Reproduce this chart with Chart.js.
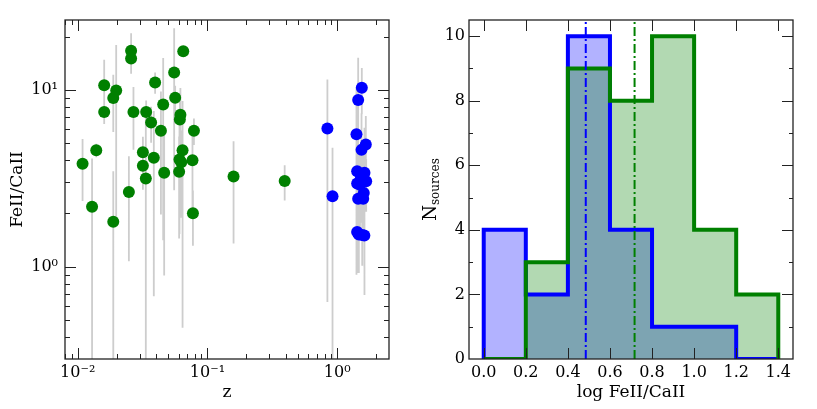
<!DOCTYPE html>
<html>
<head>
<meta charset="utf-8">
<script src="https://cdn.jsdelivr.net/npm/chart.js@4.4.1/dist/chart.umd.min.js"></script>
<style>
html, body { margin: 0; padding: 0; background: #fff; }
#left { position: absolute; left: 0; top: 0; width: 410px; height: 409px; }
#right { position: absolute; left: 410px; top: 0; width: 407px; height: 409px; }
</style>
</head>
<body>
<div id="left"><canvas id="scatter"></canvas></div>
<div id="right"><canvas id="hist"></canvas></div>
<script>
// left panel: FeII/CaII vs redshift
const greenZ = [0.0109, 0.0129, 0.0139, 0.0160, 0.0160, 0.0188, 0.0198, 0.0188, 0.0258, 0.0258, 0.0269, 0.0248,
    0.0318, 0.0318, 0.0335, 0.0337, 0.0368, 0.0395, 0.0386, 0.0438, 0.0456, 0.0464, 0.0554, 0.0564,
    0.0619, 0.0613, 0.0651, 0.0643, 0.0609, 0.0628, 0.0605, 0.0787, 0.0767, 0.0773, 0.159, 0.394];
const greenRatio = [3.81, 2.18, 4.55, 10.6, 7.48, 8.97, 9.91, 1.79, 16.6, 15.0, 7.48, 2.64,
    4.43, 3.72, 3.15, 7.48, 6.52, 11.0, 4.13, 5.87, 8.26, 3.39, 12.5, 9.02,
    7.23, 6.78, 16.5, 4.55, 4.03, 3.89, 3.44, 5.87, 3.99, 2.00, 3.23, 3.05];
const greenErr = [1.46, 1.9, 0.4, 4.2, 1.0, 3.2, 8.0, 1.67, 4.3, 2.0, 2.9, 1.57,
    1.0, 1.0, 4.2, 1.2, 1.5, 1.5, 3.45, 3.9, 6.85, 2.5, 9.8, 1.5,
    3.0, 2.0, 1.0, 4.1, 2.5, 2.0, 2.0, 1.0, 2.0, 0.69, 1.88, 0.69];

const blueZ = [0.841, 0.921, 1.549, 1.452, 1.409, 1.663, 1.541, 1.426, 1.624, 1.674, 1.426, 1.560,
    1.604, 1.452, 1.588, 1.426, 1.560, 1.47, 1.62, 1.53, 1.60, 1.50];
const blueRatio = [6.03, 2.50, 10.26, 8.75, 5.60, 4.90, 4.57, 3.46, 3.39, 3.04, 2.95, 3.10,
    2.61, 2.42, 2.42, 1.57, 1.51, 1.52, 1.50, 3.20, 3.35, 2.90];
const blueErr = [5.4, 2.2, 3.0, 6.4, 4.7, 2.2, 2.8, 2.2, 2.7, 1.0, 1.5, 1.2,
    1.0, 1.5, 1.0, 0.4, 0.5, 0.6, 0.5, 1.2, 1.0, 1.4];

const zTicks = [0.01, 0.1, 1];
const zTickLabels = ['10\u207B\u00B2', '10\u207B\u00B9', '10\u2070'];
const ratioTicks = [1, 10];
const ratioTickLabels = ['10\u2070', '10\u00B9'];

// right panel: histogram of log FeII/CaII
const binEdges = [0.0, 0.2, 0.4, 0.6, 0.8, 1.0, 1.2, 1.4];
const blueCounts = [4, 2, 10, 4, 1, 1, 0];
const greenCounts = [0, 3, 9, 8, 10, 4, 2];
const blueMean = 0.485;
const greenMean = 0.717;
const histXTicks = [0, 0.2, 0.4, 0.6, 0.8, 1.0, 1.2, 1.4];
const histYTicks = [0, 2, 4, 6, 8, 10];
const histYMinor = [1, 3, 5, 7, 9];

const FONT = 'DejaVu Serif';

function logMinors(lo, hi) {
    const out = [];
    for (let e = Math.floor(Math.log10(lo)); e <= Math.ceil(Math.log10(hi)); e++) {
        for (let m = 2; m <= 9; m++) {
            const v = m * Math.pow(10, e);
            if (v > lo && v < hi) out.push(v);
        }
    }
    return out;
}

function errSegments(xs, ys, errs) {
    const pts = [];
    xs.forEach((x, i) => {
        pts.push({x: x, y: Math.max(ys[i] - errs[i], 0.01)});
        pts.push({x: x, y: ys[i] + errs[i]});
        pts.push({x: x, y: null});
    });
    return pts;
}

function stepPoints(edges, counts) {
    const pts = [{x: edges[0], y: 0}];
    counts.forEach((c, i) => pts.push({x: edges[i + 1], y: c}));
    pts.push({x: edges[edges.length - 1], y: 0});
    return pts;
}

// ticks pointing inwards on all four sides, plus the frame
const inwardTicks = {
    id: 'inwardTicks',
    afterDraw(chart, args, opts) {
        const {ctx, chartArea: a, scales} = chart;
        ctx.save();
        ctx.strokeStyle = '#222';
        ctx.lineWidth = 1;
        const seg = (x1, y1, x2, y2) => { ctx.beginPath(); ctx.moveTo(x1, y1); ctx.lineTo(x2, y2); ctx.stroke(); };
        const xs = (vals, len) => vals.forEach(v => {
            const px = Math.round(scales.x.getPixelForValue(v)) + 0.5;
            if (px < a.left || px > a.right) return;
            seg(px, a.bottom, px, a.bottom - len);
            seg(px, a.top, px, a.top + len);
        });
        const ys = (vals, len) => vals.forEach(v => {
            const py = Math.round(scales.y.getPixelForValue(v)) + 0.5;
            if (py < a.top || py > a.bottom) return;
            seg(a.left, py, a.left + len, py);
            seg(a.right, py, a.right - len, py);
        });
        xs(opts.xMajor || [], 11);
        xs(opts.xMinor || [], 5);
        ys(opts.yMajor || [], 11);
        ys(opts.yMinor || [], opts.yMinorLen || 5);
        ctx.lineWidth = 1.3;
        ctx.strokeRect(a.left, a.top, a.right - a.left, a.bottom - a.top);
        ctx.restore();
    }
};

// N with subscript "sources" as y title of the histogram
const subTitle = {
    id: 'subTitle',
    afterDraw(chart, args, opts) {
        if (!opts.main) return;
        const ctx = chart.ctx;
        ctx.save();
        ctx.fillStyle = '#000';
        ctx.translate(opts.x, (chart.chartArea.top + chart.chartArea.bottom) / 2);
        ctx.rotate(-Math.PI / 2);
        ctx.font = '18px ' + FONT;
        const w1 = ctx.measureText(opts.main).width;
        ctx.font = '12px ' + FONT;
        const w2 = ctx.measureText(opts.sub).width;
        const start = -(w1 + w2) / 2;
        ctx.textBaseline = 'middle';
        ctx.font = '18px ' + FONT;
        ctx.fillText(opts.main, start, 0);
        ctx.font = '12px ' + FONT;
        ctx.fillText(opts.sub, start + w1, 5);
        ctx.restore();
    }
};

const tickFont = {family: FONT, size: 16};
const titleFont = {family: FONT, size: 17};

new Chart(document.getElementById('scatter'), {
    type: 'scatter',
    data: {
        datasets: [
            {
                label: 'green',
                data: greenZ.map((z, i) => ({x: z, y: greenRatio[i]})),
                backgroundColor: 'rgb(0, 128, 0)',
                borderWidth: 0,
                pointRadius: 6,
                order: 1
            },
            {
                label: 'blue',
                data: blueZ.map((z, i) => ({x: z, y: blueRatio[i]})),
                backgroundColor: 'rgb(0, 0, 255)',
                borderWidth: 0,
                pointRadius: 6,
                order: 1
            },
            {
                label: 'errors',
                data: errSegments(greenZ, greenRatio, greenErr).concat(errSegments(blueZ, blueRatio, blueErr)),
                showLine: true,
                spanGaps: false,
                borderColor: 'rgb(205, 205, 205)',
                borderWidth: 1.8,
                pointRadius: 0,
                order: 3
            }
        ]
    },
    options: {
        responsive: true,
        maintainAspectRatio: false,
        animation: false,
        layout: {padding: {top: 20, right: 21, left: 0, bottom: 0}},
        plugins: {
            legend: {display: false},
            tooltip: {enabled: false},
            inwardTicks: {
                xMajor: zTicks, xMinor: logMinors(0.00798, 2.51),
                yMajor: ratioTicks, yMinor: logMinors(0.304, 24.8)
            }
        },
        scales: {
            x: {
                type: 'logarithmic',
                min: 0.00798,
                max: 2.51,
                grid: {display: false, drawTicks: false},
                border: {display: false},
                afterBuildTicks: axis => { axis.ticks = zTicks.map(v => ({value: v})); },
                afterFit: axis => { axis.height = 50; },
                ticks: {
                    autoSkip: false, maxRotation: 0, padding: 4, color: '#000', font: tickFont,
                    callback: v => zTickLabels[zTicks.indexOf(v)]
                },
                title: {display: true, text: 'z', color: '#000', font: titleFont, padding: {top: 0, bottom: 6}}
            },
            y: {
                type: 'logarithmic',
                min: 0.304,
                max: 24.8,
                grid: {display: false, drawTicks: false},
                border: {display: false},
                afterBuildTicks: axis => { axis.ticks = ratioTicks.map(v => ({value: v})); },
                afterFit: axis => { axis.width = 65; },
                ticks: {
                    autoSkip: false, padding: 7, color: '#000', font: tickFont,
                    callback: v => ratioTickLabels[ratioTicks.indexOf(v)]
                },
                title: {display: true, text: 'FeII/CaII', color: '#000', font: titleFont, padding: {top: 7, bottom: 0}}
            }
        }
    },
    plugins: [inwardTicks]
});

new Chart(document.getElementById('hist'), {
    type: 'scatter',
    data: {
        datasets: [
            {
                label: 'blue mean',
                data: [{x: blueMean, y: 0}, {x: blueMean, y: 10.5}],
                showLine: true,
                borderColor: 'rgb(0, 0, 255)',
                borderWidth: 2,
                borderDash: [9, 3, 2, 3],
                pointRadius: 0,
                order: 0
            },
            {
                label: 'green mean',
                data: [{x: greenMean, y: 0}, {x: greenMean, y: 10.5}],
                showLine: true,
                borderColor: 'rgb(0, 128, 0)',
                borderWidth: 2,
                borderDash: [9, 3, 2, 3],
                pointRadius: 0,
                order: 0
            },
            {
                label: 'green',
                data: stepPoints(binEdges, greenCounts),
                showLine: true,
                stepped: 'after',
                fill: 'origin',
                borderColor: 'rgb(0, 128, 0)',
                backgroundColor: 'rgba(0, 128, 0, 0.3)',
                borderWidth: 4,
                borderJoinStyle: 'miter',
                pointRadius: 0,
                order: 1
            },
            {
                label: 'blue',
                data: stepPoints(binEdges, blueCounts),
                showLine: true,
                stepped: 'after',
                fill: 'origin',
                borderColor: 'rgb(0, 0, 255)',
                backgroundColor: 'rgba(0, 0, 255, 0.3)',
                borderWidth: 4,
                borderJoinStyle: 'miter',
                pointRadius: 0,
                order: 2
            }
        ]
    },
    options: {
        responsive: true,
        maintainAspectRatio: false,
        animation: false,
        layout: {padding: {top: 20, right: 24, left: 0, bottom: 0}},
        plugins: {
            legend: {display: false},
            tooltip: {enabled: false},
            filler: {drawTime: 'beforeDatasetsDraw'},
            inwardTicks: {xMajor: histXTicks, yMajor: histYTicks, yMinor: histYMinor, yMinorLen: 4},
            subTitle: {main: 'N', sub: 'sources', x: 21}
        },
        scales: {
            x: {
                type: 'linear',
                min: -0.07,
                max: 1.47,
                grid: {display: false, drawTicks: false},
                border: {display: false},
                afterBuildTicks: axis => { axis.ticks = histXTicks.map(v => ({value: v})); },
                afterFit: axis => { axis.height = 50; },
                ticks: {
                    autoSkip: false, maxRotation: 0, padding: 4, color: '#000', font: tickFont,
                    callback: v => v.toFixed(1)
                },
                title: {display: true, text: 'log FeII/CaII', color: '#000', font: titleFont, padding: {top: 0, bottom: 6}}
            },
            y: {
                type: 'linear',
                min: 0,
                max: 10.5,
                grid: {display: false, drawTicks: false},
                border: {display: false},
                afterBuildTicks: axis => { axis.ticks = histYTicks.map(v => ({value: v})); },
                afterFit: axis => { axis.width = 59; },
                ticks: {autoSkip: false, padding: 4, color: '#000', font: tickFont},
                title: {display: false}
            }
        }
    },
    plugins: [inwardTicks, subTitle]
});
</script>
</body>
</html>
